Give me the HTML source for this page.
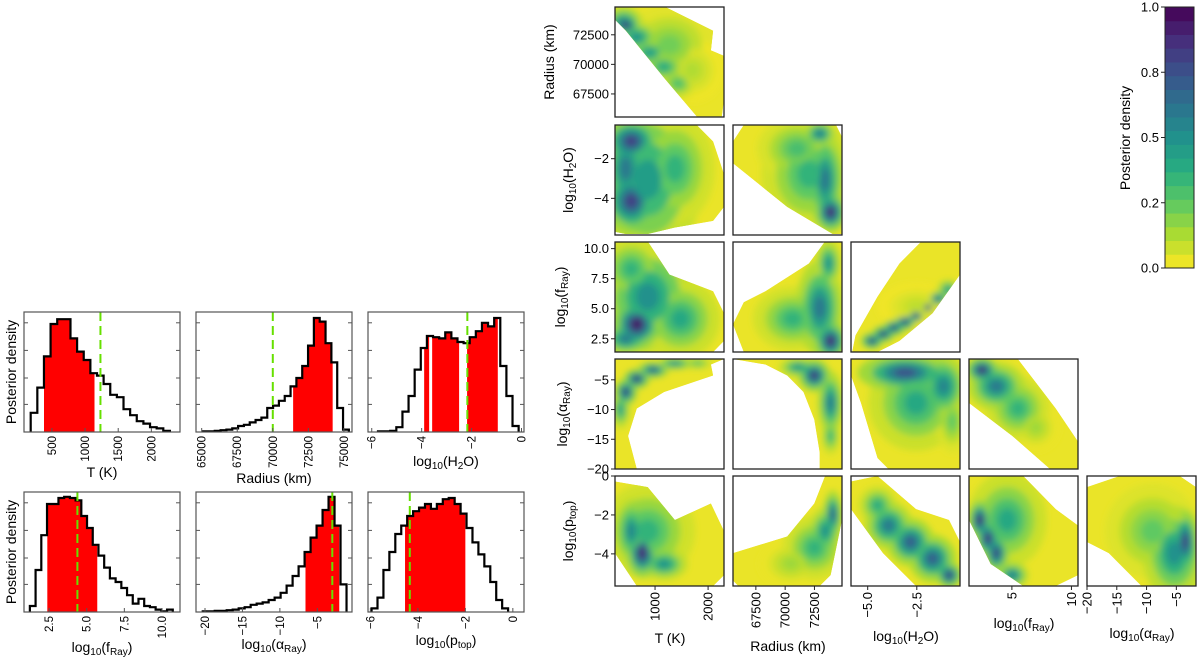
<!DOCTYPE html>
<html><head><meta charset="utf-8"><title>Retrieval posterior</title>
<style>
html,body{margin:0;padding:0;background:#fff;}
svg{display:block;font-family:"Liberation Sans",sans-serif;}
</style></head>
<body>
<svg id="fig" width="1200" height="660" viewBox="0 0 1200 660" xmlns="http://www.w3.org/2000/svg">
<defs>
<filter id="blur" x="-50%" y="-50%" width="200%" height="200%"><feGaussianBlur stdDeviation="3.4"/></filter>
</defs>
</svg>
<script>
// ===== Histogram data (1D marginals) =====
const hTStart = 180, hTWidth = 100;
const hTCounts = [0.16,0.37,0.63,0.9,0.94,0.94,0.78,0.67,0.6,0.49,0.47,0.4,0.31,0.29,0.19,0.14,0.09,0.07,0.04,0.03,0.01];
const hTRed = [[380,1142]];
const hTTruth = 1232;
const hTRange = [79,2432];
const hTTicks = [500,1000,1500,2000];
const hTTickLabels = ['500','1000','1500','2000'];

const hRStart = 65100, hRWidth = 410;
const hRCounts = [0.005,0.005,0.01,0.015,0.02,0.03,0.05,0.06,0.08,0.1,0.12,0.2,0.22,0.26,0.3,0.38,0.45,0.55,0.72,0.95,0.92,0.74,0.58,0.2,0.02];
const hRRed = [[71430,74210]];
const hRTruth = 70000;
const hRRange = [64600,75570];
const hRTicks = [65000,67500,70000,72500,75000];
const hRTickLabels = ['65000','67500','70000','72500','75000'];

const hHStart = -5.75, hHWidth = 0.245;
const hHCounts = [0.005,0.005,0.01,0.04,0.17,0.3,0.52,0.7,0.8,0.79,0.78,0.83,0.78,0.75,0.74,0.79,0.84,0.91,0.88,0.95,0.55,0.3,0.05];
const hHRed = [[-3.9,-3.7],[-3.58,-2.5],[-2.18,-0.95]];
const hHTruth = -2.17;
const hHRange = [-6.15,0.1];
const hHTicks = [-6,-4,-2,0];
const hHTickLabels = ['\u22126','\u22124','\u22122','0'];

const hFStart = 1.22, hFWidth = 0.38;
const hFCounts = [0.05,0.35,0.64,0.9,0.9,0.95,0.96,0.95,0.93,0.8,0.7,0.56,0.47,0.37,0.28,0.25,0.2,0.14,0.07,0.11,0.05,0.04,0.02,0.005,0.02];
const hFRed = [[2.38,5.7]];
const hFTruth = 4.38;
const hFRange = [0.83,11.2];
const hFTicks = [2.5,5,7.5,10];
const hFTickLabels = ['2.5','5.0','7.5','10.0'];

const hAStart = -20.3, hAWidth = 0.8;
const hACounts = [0.005,0.005,0.01,0.01,0.015,0.02,0.03,0.04,0.06,0.07,0.08,0.1,0.12,0.16,0.22,0.3,0.38,0.5,0.62,0.72,0.85,0.96,0.72,0.23];
const hARed = [[-6.58,-2.07]];
const hATruth = -3.0;
const hARange = [-21.2,-0.37];
const hATicks = [-20,-15,-10,-5];
const hATickLabels = ['\u221220','\u221215','\u221210','\u22125'];

const hPStart = -5.95, hPWidth = 0.25;
const hPCounts = [0.03,0.12,0.35,0.5,0.65,0.72,0.8,0.84,0.87,0.9,0.86,0.9,0.94,0.95,0.9,0.82,0.7,0.58,0.48,0.38,0.25,0.1,0.03];
const hPRed = [[-4.54,-2.0]];
const hPTruth = -4.34;
const hPRange = [-6.1,0.47];
const hPTicks = [-6,-4,-2,0];
const hPTickLabels = ['\u22126','\u22124','\u22122','0'];

// ===== Corner plot axis ranges & ticks =====
const rangeT = [245,2300];
const rangeR = [65550,74850];
const rangeH = [-5.85,-0.3];
const rangeF = [1.4,10.55];
const rangeAx = [-20,-1.7];
const rangeAy = [-20,-1.5];
const rangeP = [-5.65,0];

const ticksT = [1000,2000];
const tickLabelsT = ['1000','2000'];
const ticksR = [67500,70000,72500];
const tickLabelsR = ['67500','70000','72500'];
const ticksH = [-5,-2.5];
const tickLabelsH = ['\u22125.0','\u22122.5'];
const ticksHy = [-2,-4];
const tickLabelsHy = ['\u22122','\u22124'];
const ticksF = [5,10];
const tickLabelsF = ['5','10'];
const ticksFy = [10,7.5,5,2.5];
const tickLabelsFy = ['10.0','7.5','5.0','2.5'];
const ticksA = [-20,-15,-10,-5];
const tickLabelsA = ['\u221220','\u221215','\u221210','\u22125'];
const ticksP = [0,-2,-4];
const tickLabelsP = ['0','\u22122','\u22124'];

// ===== Corner plot density data: support polygons [x,y] and blobs [x,y,level,wx,wy] =====
const supRT = [[245,73780],[245,74900],[1170,74900],[2095,72850],[2053,71180],[2300,70715],[2300,66995],[2259,65600],[1786,65600],[1170,68855],[450,72850]];
const blobRT = [[1270,71650,0.22,0.3,0.25],[1700,69500,0.12,0.2,0.2],[410,73500,0.6,0.12,0.1],[656,72300,0.5,0.14,0.1],[903,71000,0.45,0.14,0.1],[1170,69800,0.4,0.14,0.1],[1437,68390,0.3,0.12,0.1],[450,73320,0.95,0.08,0.06]];
const supHT = [[245,-5.69],[245,-0.3],[1786,-0.3],[2095,-1.13],[2300,-2.78],[2300,-4.43],[2095,-5.14],[1375,-5.47],[862,-5.8],[450,-5.8]];
const blobHT = [[862,-3.05,0.45,0.35,0.5],[1375,-2.5,0.35,0.25,0.35],[450,-2.5,0.6,0.15,0.3],[553,-1.12,0.8,0.18,0.15],[553,-4.15,0.8,0.18,0.2]];
const supHR = [[65550,-1.13],[66475,-0.3],[74338,-0.3],[74800,-0.85],[74800,-5.8],[74060,-5.8],[70175,-4.43],[65550,-2.23]];
const blobHR = [[72025,-2.78,0.35,0.3,0.35],[71000,-1.5,0.3,0.25,0.2],[73400,-3.05,0.6,0.12,0.3],[72950,-0.74,0.6,0.1,0.08],[73875,-4.7,0.9,0.1,0.12]];
const supFT = [[245,1.4],[245,10.6],[862,10.6],[1272,7.84],[2095,6.46],[2300,4.62],[2300,2.32],[2095,1.4]];
const blobFT = [[862,6.0,0.5,0.3,0.35],[1478,4.16,0.4,0.25,0.25],[553,8.3,0.35,0.2,0.2],[450,2.5,0.6,0.15,0.1],[656,3.7,0.95,0.15,0.15]];
const supFR = [[65550,3.7],[66475,5.54],[68325,6.46],[72025,8.76],[73410,10.6],[74800,10.6],[74800,1.4],[66475,1.4]];
const blobFR = [[70640,4.16,0.35,0.25,0.2],[72950,5.08,0.6,0.15,0.3],[73690,8.76,0.5,0.08,0.15],[73875,2.32,0.9,0.1,0.12]];
const supFH = [[-5.79,1.4],[-5.62,2.78],[-4.5,6.0],[-3.38,8.76],[-2.54,10.14],[-2.26,10.6],[-0.3,10.6],[-0.3,7.84],[-1.7,4.62],[-3.38,2.32],[-4.5,1.4]];
const blobFH = [[-2.5,5.2,0.1,0.25,0.15],[-4.78,2.32,0.85,0.07,0.05],[-4.2,2.9,0.9,0.07,0.05],[-3.66,3.42,0.85,0.07,0.05],[-3.1,3.9,0.85,0.07,0.05],[-2.54,4.44,0.8,0.07,0.05],[-1.98,5.1,0.8,0.07,0.05],[-1.42,5.82,0.7,0.07,0.05],[-0.9,6.6,0.5,0.07,0.06]];
const supAT = [[245,-20],[656,-20],[492,-14.45],[656,-9.83],[1170,-7.05],[1786,-5.2],[2095,-4.28],[2053,-2.43],[2300,-1.5],[245,-1.5]];
const blobAT = [[350,-10,0.45,0.06,0.12],[1800,-2.2,0.3,0.1,0.04],[450,-7.05,0.85,0.07,0.08],[656,-4.83,0.9,0.08,0.06],[964,-3.35,0.75,0.1,0.05],[1375,-2.24,0.55,0.12,0.04]];
const supAR = [[65550,-1.5],[68325,-2.43],[70175,-4.28],[71563,-7.05],[72488,-11.68],[72950,-17.23],[72950,-20],[74850,-20],[74850,-1.5]];
const blobAR = [[73875,-14.45,0.35,0.06,0.12],[71100,-2.9,0.5,0.12,0.06],[73875,-8.9,0.6,0.08,0.2],[72488,-4.28,0.85,0.1,0.1]];
const supAH = [[-5.85,-4.28],[-5.34,-8.9],[-4.5,-18.15],[-3.94,-20],[-0.3,-20],[-0.3,-1.5],[-5.85,-1.5]];
const blobAH = [[-2.54,-8.9,0.4,0.3,0.3],[-0.7,-12,0.25,0.1,0.2],[-1.14,-6.1,0.55,0.15,0.2],[-3.1,-3.8,0.75,0.3,0.12]];
const supAF = [[1.4,-1.5],[5.5,-1.5],[8.68,-9.83],[10.55,-15.4],[10.55,-20],[8.2,-20],[5.04,-14.45],[1.4,-8.9]];
const blobAF = [[7,-13,0.15,0.15,0.15],[5.5,-9.8,0.35,0.2,0.2],[3.7,-6.1,0.6,0.18,0.15],[2.5,-3.35,0.9,0.1,0.08]];
const supPT = [[245,-0.28],[862,-0.57],[1375,-2.26],[2053,-1.41],[2300,-2.83],[2300,-5.09],[2095,-5.65],[656,-5.65],[245,-3.96]];
const blobPT = [[862,-2.83,0.35,0.3,0.3],[553,-2.83,0.55,0.1,0.2],[1170,-4.52,0.5,0.15,0.1],[759,-3.96,0.9,0.1,0.15]];
const supPR = [[65550,-5.37],[65550,-3.96],[70175,-3.11],[72488,-1.41],[73410,0],[74850,0],[74850,-2.26],[73875,-5.09],[72950,-5.65],[66010,-5.65]];
const blobPR = [[70500,-4.5,0.15,0.2,0.15],[72490,-3.68,0.35,0.2,0.2],[73410,-2.83,0.5,0.1,0.15],[74060,-1.98,0.7,0.06,0.15]];
const supPH = [[-5.85,-0.28],[-4.5,0],[-2.54,-1.7],[-0.86,-2.26],[-0.3,-3.39],[-0.3,-5.65],[-2.54,-5.65],[-4.22,-3.96],[-5.85,-1.7]];
const blobPH = [[-4.5,-1.5,0.4,0.12,0.12],[-3.94,-2.54,0.6,0.15,0.15],[-2.82,-3.39,0.7,0.15,0.15],[-1.7,-4.24,0.7,0.15,0.15],[-0.86,-5.09,0.85,0.08,0.08]];
const supPF = [[1.4,0],[5.95,0],[8.68,-1.7],[10.55,-2.54],[10.55,-5.09],[8.68,-5.65],[5.95,-5.65],[3.22,-4.52],[1.4,-2.26]];
const blobPF = [[4.6,-2.26,0.4,0.25,0.3],[5.04,-5.09,0.6,0.1,0.08],[3.7,-3.96,0.8,0.08,0.12],[3.0,-3.2,0.85,0.08,0.12],[2.3,-2.26,0.9,0.07,0.12]];
const supPA = [[-20,-0.57],[-14.5,0],[-4.45,0],[-1.7,-0.57],[-1.7,-5.65],[-10.85,-5.65],[-16.34,-3.96],[-20,-3.39]];
const blobPA = [[-9,-2.83,0.25,0.3,0.3],[-5.36,-3.96,0.5,0.2,0.3],[-3.5,-3.39,0.8,0.08,0.2]];

// colourbar
const cbLevels = 19;
const cbTicks = [0,0.25,0.5,0.75,1.0];
const cbTickLabels = ['0.0','0.2','0.5','0.8','1.0'];

// ===== helpers =====
const NS = 'http://www.w3.org/2000/svg';
const svg = document.getElementById('fig');
function mk(tag, attrs, parent){
  const e = document.createElementNS(NS, tag);
  for (const k in attrs) e.setAttribute(k, attrs[k]);
  (parent || svg).appendChild(e);
  return e;
}
const VIR = ['#440154','#472d7b','#3b528b','#2c728e','#21918c','#28ae80','#5ec962','#addc30','#fde725'];
function hex2rgb(h){return [parseInt(h.substr(1,2),16),parseInt(h.substr(3,2),16),parseInt(h.substr(5,2),16)];}
function vir(t){
  t = Math.max(0, Math.min(1, t));
  const s = t * 8, i = Math.min(7, Math.floor(s)), f = s - i;
  const a = hex2rgb(VIR[i]), b = hex2rgb(VIR[i+1]);
  return 'rgb(' + a.map((v,k)=>Math.round(v+(b[k]-v)*f)).join(',') + ')';
}
function dens(L){ return vir(1 - L); }
function lin(d0, d1, r0, r1){ return v => r0 + (v - d0) / (d1 - d0) * (r1 - r0); }
let clipId = 0;

function addLabel(parent, x, y, parts, size, rotate, anchor, name){
  const t = mk('text', {x: x, y: y, 'font-size': size, 'text-anchor': anchor || 'middle', fill: '#000'}, parent);
  if (rotate) t.setAttribute('transform', 'rotate(-90 ' + x + ' ' + y + ')');
  parts.forEach(p => {
    const s = mk('tspan', {}, t);
    if (p.sub) { s.setAttribute('font-size', Math.round(size * 0.7)); s.setAttribute('dy', size * 0.22); }
    else if (p.after) { s.setAttribute('dy', -size * 0.22); }
    s.textContent = p.t;
  });
  
  
  return t;
}
const LBL = {
  T: [{t:'T (K)'}],
  R: [{t:'Radius (km)'}],
  H: [{t:'log'},{t:'10',sub:1},{t:'(H',after:1},{t:'2',sub:1},{t:'O)',after:1}],
  F: [{t:'log'},{t:'10',sub:1},{t:'(f',after:1},{t:'Ray',sub:1},{t:')',after:1}],
  A: [{t:'log'},{t:'10',sub:1},{t:'(\u03b1',after:1},{t:'Ray',sub:1},{t:')',after:1}],
  P: [{t:'log'},{t:'10',sub:1},{t:'(p',after:1},{t:'top',sub:1},{t:')',after:1}]
};

// ===== Histogram panels =====
function histPanel(box, name, start, width, counts, red, truth, range, ticks, tickLabels, label, labelY){
  const g = mk('g', {});
  
  
  const sx = lin(range[0], range[1], box.x, box.x + box.w);
  const sy = lin(0, 1.0, box.y + box.h, box.y);
  let d = 'M' + sx(start) + ',' + sy(0);
  counts.forEach((c, i) => {
    d += ' L' + sx(start + i * width) + ',' + sy(c) + ' L' + sx(start + (i + 1) * width) + ',' + sy(c);
  });
  d += ' L' + sx(start + counts.length * width) + ',' + sy(0);
  const cid = 'hc' + (clipId++);
  const cp = mk('clipPath', {id: cid}, g);
  red.forEach(seg => mk('rect', {x: sx(seg[0]), y: box.y, width: sx(seg[1]) - sx(seg[0]), height: box.h}, cp));
  const fillP = mk('path', {d: d + ' Z', fill: '#ff0000', stroke: 'none', 'clip-path': 'url(#' + cid + ')'}, g);
  
  
  const line = mk('path', {d: d, fill: 'none', stroke: '#000', 'stroke-width': 2.2, 'stroke-linejoin': 'miter'}, g);
  
  
  const tl = mk('line', {x1: sx(truth), x2: sx(truth), y1: box.y, y2: box.y + box.h, stroke: '#66e000', 'stroke-width': 2, 'stroke-dasharray': '9,5'}, g);
  
  
  const fr = mk('rect', {x: box.x, y: box.y, width: box.w, height: box.h, fill: 'none', stroke: '#555', 'stroke-width': 1.2}, g);
  
  
  [0.23,0.45,0.68,0.91].forEach(f => {
    const yy = box.y + box.h * (1 - f);
    mk('line', {x1: box.x, x2: box.x + 4, y1: yy, y2: yy, stroke: '#555'}, g);
    mk('line', {x1: box.x + box.w - 4, x2: box.x + box.w, y1: yy, y2: yy, stroke: '#555'}, g);
  });
  ticks.forEach((v, i) => {
    const xx = sx(v);
    mk('line', {x1: xx, x2: xx, y1: box.y + box.h, y2: box.y + box.h - 4, stroke: '#555'}, g);
    const t = mk('text', {x: xx + 4, y: box.y + box.h + 4, 'font-size': 11.5, 'text-anchor': 'end', transform: 'rotate(-90 ' + (xx + 4) + ' ' + (box.y + box.h + 4) + ')'}, g);
    t.textContent = tickLabels[i];
    
    
  });
  addLabel(g, box.x + box.w / 2, labelY, LBL[label], 14, false, 'middle', 'x-axis-title');
}
const hb = [
  {x:24,y:312,w:156,h:120},{x:196,y:312,w:156,h:120},{x:368,y:312,w:156,h:120},
  {x:24,y:492,w:156,h:120},{x:196,y:492,w:156,h:120},{x:368,y:492,w:156,h:120}
];
histPanel(hb[0], 'hist-temperature', hTStart, hTWidth, hTCounts, hTRed, hTTruth, hTRange, hTTicks, hTTickLabels, 'T', 477);
histPanel(hb[1], 'hist-radius', hRStart, hRWidth, hRCounts, hRRed, hRTruth, hRRange, hRTicks, hRTickLabels, 'R', 483);
histPanel(hb[2], 'hist-h2o', hHStart, hHWidth, hHCounts, hHRed, hHTruth, hHRange, hHTicks, hHTickLabels, 'H', 466);
histPanel(hb[3], 'hist-fray', hFStart, hFWidth, hFCounts, hFRed, hFTruth, hFRange, hFTicks, hFTickLabels, 'F', 652);
histPanel(hb[4], 'hist-alpha-ray', hAStart, hAWidth, hACounts, hARed, hATruth, hARange, hATicks, hATickLabels, 'A', 649);
histPanel(hb[5], 'hist-ptop', hPStart, hPWidth, hPCounts, hPRed, hPTruth, hPRange, hPTicks, hPTickLabels, 'P', 645);
addLabel(svg, 16, 372, [{t:'Posterior density'}], 14, true, 'middle', 'y-axis-title-row1');
addLabel(svg, 16, 552, [{t:'Posterior density'}], 14, true, 'middle', 'y-axis-title-row2');

// ===== Corner (2D) panels =====
const colX = [615,733,851,969,1087];
const rowY = [7,125,242,359,476];
const PW = 109, PH = 110;
const xRanges = [rangeT, rangeR, rangeH, rangeF, rangeAx];
const yRanges = [rangeR, rangeH, rangeF, rangeAy, rangeP];
const panels = [
  [0,0,supRT,blobRT,'radius-vs-temperature'],
  [1,0,supHT,blobHT,'h2o-vs-temperature'],[1,1,supHR,blobHR,'h2o-vs-radius'],
  [2,0,supFT,blobFT,'fray-vs-temperature'],[2,1,supFR,blobFR,'fray-vs-radius'],[2,2,supFH,blobFH,'fray-vs-h2o'],
  [3,0,supAT,blobAT,'alpha-vs-temperature'],[3,1,supAR,blobAR,'alpha-vs-radius'],[3,2,supAH,blobAH,'alpha-vs-h2o'],[3,3,supAF,blobAF,'alpha-vs-fray'],
  [4,0,supPT,blobPT,'ptop-vs-temperature'],[4,1,supPR,blobPR,'ptop-vs-radius'],[4,2,supPH,blobPH,'ptop-vs-h2o'],[4,3,supPF,blobPF,'ptop-vs-fray'],[4,4,supPA,blobPA,'ptop-vs-alpha']
];
const layers = [[0.2,1.45],[0.45,1.0],[0.72,0.66],[1.0,0.36]];
panels.forEach(p => {
  const r = p[0], c = p[1], sup = p[2], blobs = p[3];
  const x0 = colX[c], y0 = rowY[r];
  const sx = lin(xRanges[c][0], xRanges[c][1], x0, x0 + PW);
  const sy = lin(yRanges[r][0], yRanges[r][1], y0 + PH, y0);
  const g = mk('g', {});
  
  
  const pts = sup.map(q => sx(q[0]).toFixed(1) + ',' + sy(q[1]).toFixed(1)).join(' ');
  const cid = 'cc' + (clipId++);
  const cp = mk('clipPath', {id: cid}, g);
  mk('polygon', {points: pts}, cp);
  const cid2 = 'cb' + (clipId++);
  const cp2 = mk('clipPath', {id: cid2}, g);
  mk('rect', {x: x0, y: y0, width: PW, height: PH}, cp2);
  const outer = mk('g', {'clip-path': 'url(#' + cid2 + ')'}, g);
  const inner = mk('g', {'clip-path': 'url(#' + cid + ')'}, outer);
  const sp = mk('polygon', {points: pts, fill: dens(0.03), stroke: dens(0.03), 'stroke-width': 3, 'stroke-linejoin': 'round'}, inner);
  
  
  const bg = mk('g', {filter: 'url(#blur)'}, inner);
  layers.forEach(k => {
    blobs.forEach(b => {
      const e = mk('ellipse', {cx: sx(b[0]), cy: sy(b[1]), rx: b[3] * PW * k[1], ry: b[4] * PH * k[1], fill: dens(b[2] * k[0])}, bg);
      
      
    });
  });
  const fr = mk('rect', {x: x0, y: y0, width: PW, height: PH, fill: 'none', stroke: '#222', 'stroke-width': 1.3}, g);
  
  
});

// y ticks (left column)
const yTickSets = [[ticksR,tickLabelsR],[ticksHy,tickLabelsHy],[ticksFy,tickLabelsFy],[ticksA,tickLabelsA],[ticksP,tickLabelsP]];
yTickSets.forEach((ts, r) => {
  const sy = lin(yRanges[r][0], yRanges[r][1], rowY[r] + PH, rowY[r]);
  ts[0].forEach((v, i) => {
    const yy = sy(v);
    mk('line', {x1: colX[0] - 4, x2: colX[0], y1: yy, y2: yy, stroke: '#222', 'stroke-width': 1});
    const t = mk('text', {x: colX[0] - 6, y: yy + 4.5, 'font-size': 13, 'text-anchor': 'end'});
    t.textContent = ts[1][i];
    
    
  });
});
const yTitleX = [554,573,565,567,573];
['R','H','F','A','P'].forEach((k, r) => addLabel(svg, yTitleX[r], rowY[r] + PH / 2, LBL[k], 14, true, 'middle', 'corner-y-axis-title'));

// x ticks (bottom row)
const xTickSets = [[ticksT,tickLabelsT],[ticksR,tickLabelsR],[ticksH,tickLabelsH],[ticksF,tickLabelsF],[ticksA,tickLabelsA]];
const yb = rowY[4] + PH;
xTickSets.forEach((ts, c) => {
  const sx = lin(xRanges[c][0], xRanges[c][1], colX[c], colX[c] + PW);
  ts[0].forEach((v, i) => {
    const xx = sx(v);
    mk('line', {x1: xx, x2: xx, y1: yb, y2: yb + 4, stroke: '#222', 'stroke-width': 1});
    const t = mk('text', {x: xx + 4.5, y: yb + 6, 'font-size': 13, 'text-anchor': 'end', transform: 'rotate(-90 ' + (xx + 4.5) + ' ' + (yb + 6) + ')'});
    t.textContent = ts[1][i];
    
    
  });
});
const xTitleY = [643,651,641,628,638];
const xTitleX = [670,788,906,1024,1142];
['T','R','H','F','A'].forEach((k, c) => addLabel(svg, xTitleX[c], xTitleY[c], LBL[k], 14, false, 'middle', 'corner-x-axis-title'));

// ===== Colour bar =====
const cbX = 1165, cbY = 7, cbW = 29, cbH = 261;
const cbg = mk('g', {});


for (let i = 0; i < cbLevels; i++) {
  const rr = mk('rect', {x: cbX, y: cbY + cbH - (i + 1) * cbH / cbLevels, width: cbW, height: cbH / cbLevels + 0.5, fill: dens((i + 0.5) / cbLevels)}, cbg);
  
  
}
mk('rect', {x: cbX, y: cbY, width: cbW, height: cbH, fill: 'none', stroke: '#222', 'stroke-width': 1}, cbg);
const cby = lin(0, 1, cbY + cbH, cbY);
cbTicks.forEach((v, i) => {
  const yy = cby(v);
  mk('line', {x1: cbX - 4, x2: cbX, y1: yy, y2: yy, stroke: '#222'}, cbg);
  const t = mk('text', {x: cbX - 6, y: yy + 4.5, 'font-size': 13, 'text-anchor': 'end'}, cbg);
  t.textContent = cbTickLabels[i];
  
  
});
addLabel(svg, 1130, 138, [{t:'Posterior density'}], 14, true, 'middle', 'colorbar-title');
</script>
</body></html>
